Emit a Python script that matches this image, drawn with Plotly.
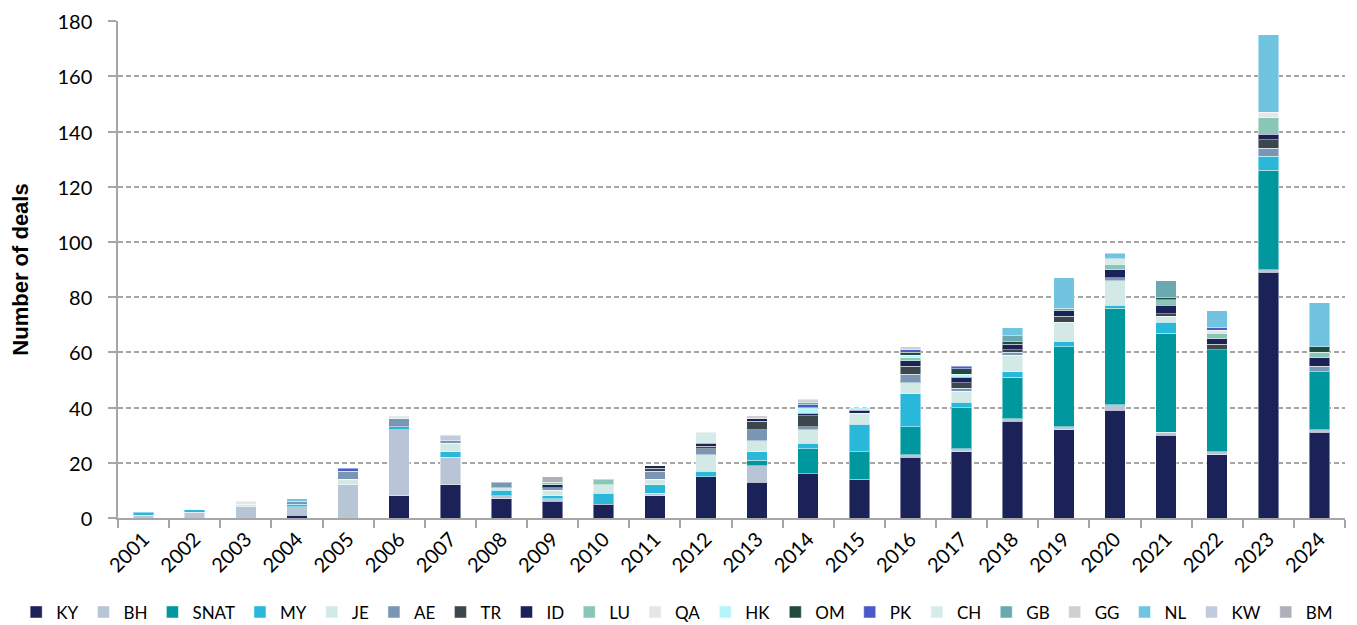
import plotly.graph_objects as go

years = ["2001", "2002", "2003", "2004", "2005", "2006", "2007", "2008", "2009", "2010",
         "2011", "2012", "2013", "2014", "2015", "2016", "2017", "2018", "2019", "2020",
         "2021", "2022", "2023", "2024"]

KY   = [0, 0, 0, 1, 0, 8, 12, 7, 6, 5, 8, 15, 13, 16, 14, 22, 24, 35, 32, 39, 30, 23, 89, 31]
BH   = [1, 2, 4, 3, 12, 24, 10, 1, 1, 0, 1, 0, 6, 0, 0, 1, 1, 1, 1, 2, 1, 1, 1, 1]
SNAT = [0, 0, 0, 0, 0, 0, 0, 0, 0, 0, 0, 0, 2, 9, 10, 10, 15, 15, 29, 35, 36, 37, 36, 21]
MY   = [1, 1, 0, 1, 0, 1, 2, 2, 1, 4, 3, 2, 3, 2, 10, 12, 2, 2, 2, 1, 4, 0, 5, 0]
JE   = [0, 0, 1, 0, 2, 0, 3, 1, 2, 3, 2, 6, 4, 5, 4, 4, 4, 6, 7, 9, 2, 0, 0, 0]
AE   = [0, 0, 0, 1, 3, 3, 1, 2, 1, 0, 3, 2, 4, 1, 0, 3, 1, 1, 0, 1, 0, 0, 3, 2]
TR   = [0, 0, 0, 0, 0, 0, 0, 0, 0, 0, 1, 1, 3, 4, 0, 3, 2, 1, 2, 0, 1, 2, 3, 0]
ID   = [0, 0, 0, 0, 0, 0, 0, 0, 1, 0, 1, 1, 1, 1, 1, 2, 2, 2, 2, 3, 3, 2, 2, 3]
LU   = [0, 0, 0, 0, 0, 0, 0, 0, 1, 2, 0, 0, 0, 0, 0, 1, 0, 0, 0, 2, 2, 2, 6, 2]
QA   = [0, 0, 1, 0, 0, 1, 0, 0, 0, 0, 0, 0, 0, 0, 0, 0, 0, 0, 0, 0, 0, 1, 2, 0]
HK   = [0, 0, 0, 0, 0, 0, 0, 0, 0, 0, 0, 0, 0, 2, 1, 1, 1, 0, 0, 0, 0, 0, 0, 0]
OM   = [0, 0, 0, 0, 0, 0, 0, 0, 0, 0, 0, 0, 0, 0, 0, 1, 2, 1, 0, 0, 1, 0, 0, 2]
PK   = [0, 0, 0, 0, 1, 0, 0, 0, 0, 0, 0, 0, 0, 1, 0, 1, 1, 0, 0, 0, 0, 1, 0, 0]
CH   = [0, 0, 0, 0, 0, 0, 0, 0, 0, 0, 0, 4, 0, 0, 0, 0, 0, 0, 0, 2, 0, 0, 0, 0]
GB   = [0, 0, 0, 0, 0, 0, 0, 0, 0, 0, 0, 0, 0, 1, 0, 0, 0, 2, 1, 0, 6, 0, 0, 0]
GG   = [0, 0, 0, 0, 0, 0, 0, 0, 0, 0, 0, 0, 1, 1, 0, 1, 0, 0, 0, 0, 0, 0, 0, 0]
NL   = [0, 0, 0, 1, 0, 0, 0, 0, 0, 0, 0, 0, 0, 0, 0, 0, 0, 3, 11, 2, 0, 6, 28, 16]
KW   = [0, 0, 0, 0, 0, 0, 2, 0, 0, 0, 0, 0, 0, 0, 0, 0, 0, 0, 0, 0, 0, 0, 0, 0]
BM   = [0, 0, 0, 0, 0, 0, 0, 0, 2, 0, 0, 0, 0, 0, 0, 0, 0, 0, 0, 0, 0, 0, 0, 0]

y_ticks = [0, 20, 40, 60, 80, 100, 120, 140, 160, 180]

series_names = ["KY", "BH", "SNAT", "MY", "JE", "AE", "TR", "ID", "LU", "QA",
                "HK", "OM", "PK", "CH", "GB", "GG", "NL", "KW", "BM"]
series_values = [KY, BH, SNAT, MY, JE, AE, TR, ID, LU, QA, HK, OM, PK, CH, GB, GG, NL, KW, BM]
series_colors = ["#1b2257", "#b8c5d6", "#00979e", "#29b7da", "#d3e9e5", "#7a96b5",
                 "#3b474d", "#1b2257", "#8ac6b7", "#e4e6ea", "#b5f5f8", "#224b40",
                 "#4a5bc9", "#d6ece8", "#68aab0", "#d0d0d0", "#71c4e0", "#c0ccdc", "#aeb0b9"]

fig = go.Figure()
for name, vals, col in zip(series_names, series_values, series_colors):
    fig.add_trace(go.Bar(
        x=years,
        y=[v if v else None for v in vals],
        name=name,
        marker=dict(color=col, line=dict(color="rgba(255,255,255,0.45)", width=1)),
    ))

font_family = "Lato, 'Open Sans', sans-serif"
fig.update_layout(
    barmode="stack",
    bargap=0.6,
    width=1349,
    height=617,
    margin=dict(l=110, r=12, t=13, b=107, autoexpand=False),
    plot_bgcolor="white",
    paper_bgcolor="white",
    font=dict(family=font_family, size=20, color="#000000"),
    showlegend=True,
    legend=dict(
        orientation="h",
        x=-0.083,
        xanchor="left",
        y=-0.19,
        yanchor="middle",
        bgcolor="rgba(0,0,0,0)",
        font=dict(family=font_family, size=17, color="#000000"),
        traceorder="normal",
        itemwidth=30,
        tracegroupgap=0,
    ),
    xaxis=dict(
        type="category",
        automargin=False,
        showline=True,
        linecolor="#a6a6a6",
        linewidth=1.5,
        ticks="outside",
        tickson="boundaries",
        ticklen=8,
        tickcolor="#a6a6a6",
        tickwidth=1.5,
        tickangle=-45,
        tickfont=dict(family=font_family, size=20, color="#000000"),
        showgrid=False,
    ),
    yaxis=dict(
        range=[0, 180.05],
        tickmode="array",
        tickvals=y_ticks,
        ticktext=[str(v) for v in y_ticks],
        automargin=False,
        showline=True,
        linecolor="#a6a6a6",
        linewidth=1.5,
        ticks="outside",
        ticklen=8,
        tickcolor="#a6a6a6",
        tickwidth=1.5,
        ticklabelstandoff=12,
        ticklabelshift=1,
        ticklabeloverflow="allow",
        tickfont=dict(family=font_family, size=20, color="#000000"),
        showgrid=True,
        gridcolor="#a6a6a6",
        gridwidth=1.5,
        griddash="5px,3px",
        zeroline=False,
        title=dict(text="<b>Number of deals</b>",
                   font=dict(family="'Liberation Sans', Arial, sans-serif", size=22, color="#000000"),
                   standoff=32),
    ),
)

fig.write_html("out.html")
